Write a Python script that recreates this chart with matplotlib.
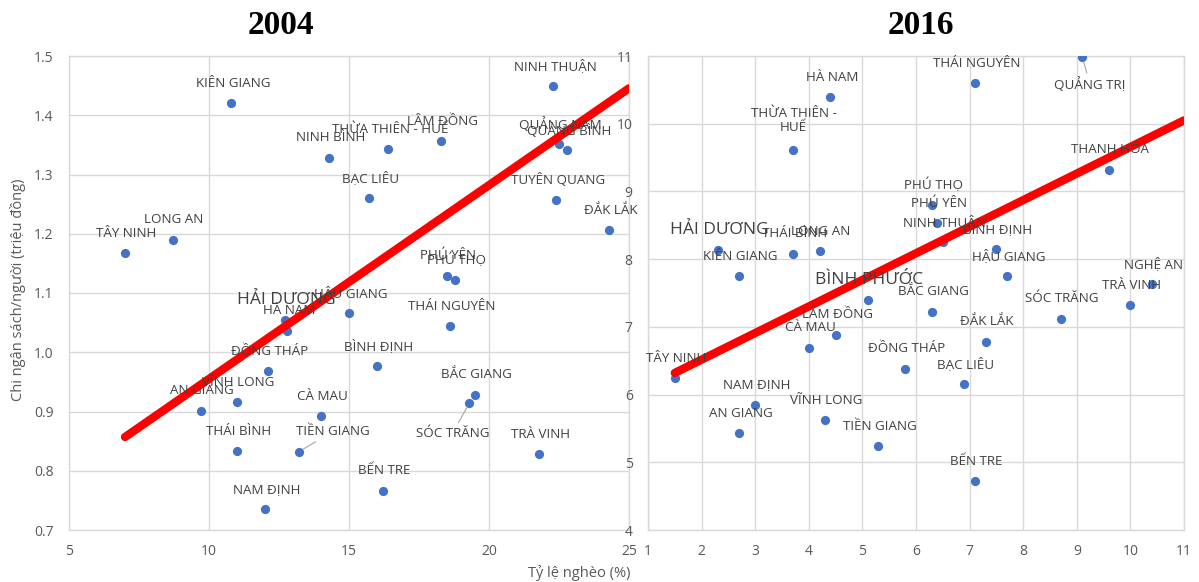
import numpy as np
import matplotlib
matplotlib.use("Agg")
import matplotlib.pyplot as plt

# ---------------- data ----------------
names_2004 = ["TÂY NINH", "LONG AN", "KIÊN GIANG", "NINH BÌNH", "THỪA THIÊN - HUẾ", "LÂM ĐỒNG",
              "BẠC LIÊU", "NINH THUẬN", "QUẢNG NAM", "QUẢNG BÌNH", "TUYÊN QUANG", "ĐẮK LẮK",
              "PHÚ YÊN", "PHÚ THỌ", "HẬU GIANG", "HẢI DƯƠNG", "HÀ NAM", "ĐỒNG THÁP", "VĨNH LONG",
              "AN GIANG", "CÀ MAU", "THÁI BÌNH", "TIỀN GIANG", "NAM ĐỊNH", "THÁI NGUYÊN",
              "BÌNH ĐỊNH", "BẮC GIANG", "SÓC TRĂNG", "TRÀ VINH", "BẾN TRE"]
poverty_2004 = [7.0, 8.7, 10.8, 14.3, 16.4, 18.3, 15.7, 22.3, 22.5, 22.8, 22.4, 24.3,
                18.5, 18.8, 15.0, 12.7, 12.8, 12.1, 11.0, 9.7, 14.0, 11.0, 13.2, 12.0, 18.6,
                16.0, 19.5, 19.3, 21.8, 16.2]
spend_2004 = [1.167, 1.190, 1.420, 1.328, 1.343, 1.356, 1.260, 1.449, 1.351, 1.341, 1.257, 1.206,
              1.129, 1.122, 1.066, 1.054, 1.036, 0.968, 0.916, 0.901, 0.892, 0.833, 0.832, 0.735,
              1.044, 0.977, 0.928, 0.914, 0.828, 0.766]
# trend line as shown in the chart (slope, intercept)
trend_2004 = (0.0327, 0.628)

names_2016 = ["HÀ NAM", "THỪA THIÊN - HUẾ", "THÁI NGUYÊN", "QUẢNG TRỊ", "THANH HÓA", "PHÚ THỌ",
              "PHÚ YÊN", "NINH THUẬN", "BÌNH ĐỊNH", "HẬU GIANG", "NGHỆ AN", "TRÀ VINH", "SÓC TRĂNG",
              "ĐẮK LẮK", "BẠC LIÊU", "ĐỒNG THÁP", "BẮC GIANG", "BÌNH PHƯỚC", "LÂM ĐỒNG", "CÀ MAU",
              "TÂY NINH", "NAM ĐỊNH", "AN GIANG", "VĨNH LONG", "TIỀN GIANG", "BẾN TRE",
              "HẢI DƯƠNG", "KIÊN GIANG", "THÁI BÌNH", "LONG AN"]
poverty_2016 = [4.4, 3.7, 7.1, 9.1, 9.6, 6.3, 6.4, 6.5, 7.5, 7.7, 10.4, 10.0, 8.7,
                7.3, 6.9, 5.8, 6.3, 5.1, 4.5, 4.0, 1.5, 3.0, 2.7, 4.3, 5.3, 7.1,
                2.3, 2.7, 3.7, 4.2]
spend_2016 = [10.39, 9.61, 10.60, 10.99, 9.32, 8.80, 8.53, 8.25, 8.15, 7.75, 7.63, 7.32, 7.12,
              6.78, 6.16, 6.38, 7.22, 7.40, 6.88, 6.69, 6.24, 5.85, 5.43, 5.62, 5.24, 4.72,
              8.13, 7.75, 8.08, 8.12]
trend_2016 = (0.3926, 5.731)

xticks_2004 = [5, 10, 15, 20, 25]
yticks_2004 = [0.7, 0.8, 0.9, 1.0, 1.1, 1.2, 1.3, 1.4, 1.5]
xticks_2016 = list(range(1, 12))
yticks_2016 = list(range(4, 12))

# ---------------- styling ----------------
plt.rcParams['font.family'] = ['Open Sans', 'DejaVu Sans']
BLUE = "#4472C4"
LABEL_C = "#404040"
TICK_C = "#595959"
GRID_C = "#D9D9D9"
PX = 72 / 100.0  # points per pixel

fig = plt.figure(figsize=(11.99, 5.82), dpi=100)
axL = fig.add_axes([69 / 1199, 1 - 530 / 582, (629 - 69) / 1199, (530 - 56) / 582])
axR = fig.add_axes([648 / 1199, 1 - 530 / 582, (1184 - 648) / 1199, (530 - 56) / 582])

# label tweaks: offsets in pixels (dx, dy), font size, leader line
special_2004 = {
    "TIỀN GIANG": dict(off=(34, 20), leader=True),
    "SÓC TRĂNG": dict(off=(-17, -30), leader=True),
    "HẢI DƯƠNG": dict(size=12.5),
}
special_2016 = {
    "QUẢNG TRỊ": dict(off=(8, -28), leader=True),
    "THỪA THIÊN - HUẾ": dict(off=(1, 30), text="THỪA THIÊN -\nHUẾ"),
    "HẢI DƯƠNG": dict(size=12.5),
    "BÌNH PHƯỚC": dict(size=12.5),
}


def draw(ax, xs, ys, names, trend, special, xt, yt, xlim, ylim, yfmt):
    ax.set_xlim(*xlim)
    ax.set_ylim(*ylim)
    ax.set_xticks(xt)
    ax.set_yticks(yt)
    ax.set_yticklabels([yfmt(v) for v in yt])
    ax.grid(True, color=GRID_C, lw=1.0, zorder=0)
    ax.set_axisbelow(True)
    for s in ax.spines.values():
        s.set_color(GRID_C)
        s.set_linewidth(1.0)
    ax.tick_params(length=0, labelsize=10, colors=TICK_C, pad=10)
    ax.tick_params(axis='y', pad=11)

    # trend line, from smallest x to the axis max
    k, b = trend
    tx = np.array([min(xs), xlim[1]])
    ax.plot(tx, k * tx + b, color="#FF0000", lw=6, solid_capstyle="round", zorder=4)

    ax.scatter(xs, ys, s=44, color=BLUE, zorder=3, linewidths=0)

    for x, y, n in zip(xs, ys, names):
        sp = special.get(n, {})
        dx, dy = sp.get("off", (1.5, 20))
        kw = {}
        if sp.get("leader"):
            kw["arrowprops"] = dict(arrowstyle="-", color="#A6A6A6", lw=0.8,
                                    shrinkA=1, shrinkB=4)
        ax.annotate(sp.get("text", n), (x, y), xytext=(dx * PX, dy * PX),
                    textcoords="offset points", ha="center", va="center",
                    fontsize=sp.get("size", 9.6), color=LABEL_C, zorder=5,
                    linespacing=1.1, annotation_clip=False, **kw)


draw(axL, poverty_2004, spend_2004, names_2004, trend_2004, special_2004, xticks_2004,
     yticks_2004, (5, 25), (0.7, 1.5), lambda v: f"{v:.1f}")
draw(axR, poverty_2016, spend_2016, names_2016, trend_2016, special_2016, xticks_2016,
     yticks_2016, (1, 11), (4, 11), lambda v: f"{v:d}")

fig.text(281 / 1199, 1 - 26 / 582, "2004", ha="center", va="center",
         fontsize=24, fontweight="bold", family="Liberation Serif", color="black")
fig.text(921 / 1199, 1 - 26 / 582, "2016", ha="center", va="center",
         fontsize=24, fontweight="bold", family="Liberation Serif", color="black")
fig.text(18 / 1199, 1 - 290 / 582, "Chi ngân sách/người (triệu đồng)", rotation=90,
         ha="center", va="center", fontsize=10.5, color=TICK_C)
fig.text(579 / 1199, 1 - 573 / 582, "Tỷ lệ nghèo (%)", ha="center", va="center",
         fontsize=10.5, color=TICK_C)

fig.savefig("out.png", dpi=100)
